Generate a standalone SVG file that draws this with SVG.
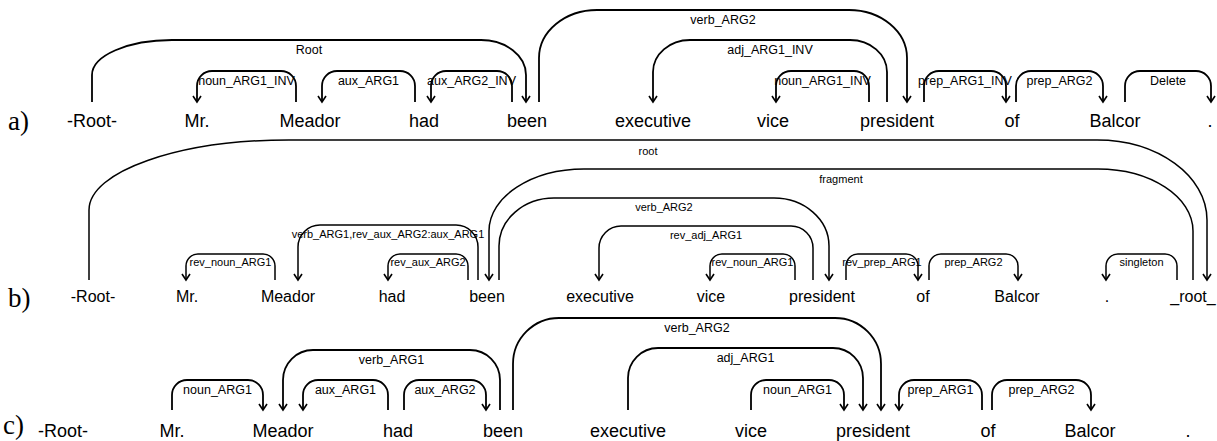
<svg xmlns="http://www.w3.org/2000/svg" width="1217" height="441" viewBox="0 0 1217 441">
<style>
.w{font-family:"Liberation Sans",Arial,sans-serif;font-size:18px;fill:#000;text-anchor:middle}
.wb{font-family:"Liberation Sans",Arial,sans-serif;font-size:16px;fill:#000;text-anchor:middle}
.rl{font-family:"Liberation Serif","Times New Roman",serif;font-size:27px;fill:#000}
.l{font-family:"Liberation Sans",Arial,sans-serif;font-size:12.5px;fill:#000;text-anchor:middle}
.lb{font-family:"Liberation Sans",Arial,sans-serif;font-size:11px;fill:#000;text-anchor:middle}
.arc{fill:none;stroke:#000;stroke-width:1.8}
.arcb{fill:none;stroke:#000;stroke-width:1.5}
.ah{marker-end:url(#ah)}
</style>
<defs>
<marker id="ah" markerUnits="userSpaceOnUse" markerWidth="12" markerHeight="12" viewBox="-8 -6 12 12" refX="0" refY="0" orient="auto" overflow="visible">
<path d="M-6,-4 L0,0 L-6,4" fill="none" stroke="#000" stroke-width="1.6"/>
</marker>
</defs>
<rect width="1217" height="441" fill="#fff"/>

<!-- row labels -->
<text class="rl" x="8" y="130">a)</text>
<text class="rl" x="8" y="307">b)</text>
<text class="rl" x="3" y="434">c)</text>

<!-- Row a nodes -->
<g id="a-root"><text class="w" x="92" y="127">-Root-</text></g>
<g id="a-mr"><text class="w" x="197" y="127">Mr.</text></g>
<g id="a-meador"><text class="w" x="310" y="127">Meador</text></g>
<g id="a-had"><text class="w" x="424" y="127">had</text></g>
<g id="a-been"><text class="w" x="527" y="127">been</text></g>
<g id="a-executive"><text class="w" x="653" y="127">executive</text></g>
<g id="a-vice"><text class="w" x="773" y="127">vice</text></g>
<g id="a-president"><text class="w" x="897" y="127">president</text></g>
<g id="a-of"><text class="w" x="1012" y="127">of</text></g>
<g id="a-balcor"><text class="w" x="1115" y="127">Balcor</text></g>
<g id="a-dot"><text class="w" x="1210" y="127">.</text></g>

<!-- Row b nodes -->
<g id="b-root"><text class="wb" x="93" y="302">-Root-</text></g>
<g id="b-mr"><text class="wb" x="187" y="302">Mr.</text></g>
<g id="b-meador"><text class="wb" x="288" y="302">Meador</text></g>
<g id="b-had"><text class="wb" x="392" y="302">had</text></g>
<g id="b-been"><text class="wb" x="487" y="302">been</text></g>
<g id="b-executive"><text class="wb" x="600" y="302">executive</text></g>
<g id="b-vice"><text class="wb" x="711" y="302">vice</text></g>
<g id="b-president"><text class="wb" x="822" y="302">president</text></g>
<g id="b-of"><text class="wb" x="923" y="302">of</text></g>
<g id="b-balcor"><text class="wb" x="1017" y="302">Balcor</text></g>
<g id="b-dot"><text class="wb" x="1107" y="302">.</text></g>
<g id="b-rootend"><text class="wb" x="1193" y="302">_root_</text></g>

<!-- Row c nodes -->
<g id="c-root"><text class="w" x="63" y="437">-Root-</text></g>
<g id="c-mr"><text class="w" x="172" y="437">Mr.</text></g>
<g id="c-meador"><text class="w" x="283" y="437">Meador</text></g>
<g id="c-had"><text class="w" x="398" y="437">had</text></g>
<g id="c-been"><text class="w" x="503" y="437">been</text></g>
<g id="c-executive"><text class="w" x="628" y="437">executive</text></g>
<g id="c-vice"><text class="w" x="751" y="437">vice</text></g>
<g id="c-president"><text class="w" x="873" y="437">president</text></g>
<g id="c-of"><text class="w" x="988" y="437">of</text></g>
<g id="c-balcor"><text class="w" x="1090" y="437">Balcor</text></g>
<g id="c-dot"><text class="w" x="1188" y="437">.</text></g>

<g id="connectors">
<!-- Row a -->
<path class="arc ah" d="M92,102 V75 C92,55.7 127.8,40 172,40 H481 C505.8,40 526,55.7 526,75 V102"/>
<text class="l" x="309" y="54">Root</text>
<path class="arc ah" d="M296,102 V86 C296,77.7 289.3,71 281,71 H212 C203.7,71 197,77.7 197,86 V102"/>
<text class="l" x="246.5" y="85">noun_ARG1_INV</text>
<path class="arc ah" d="M415,102 V86 C415,77.7 408.3,71 400,71 H337 C328.7,71 322,77.7 322,86 V102"/>
<text class="l" x="368.5" y="85">aux_ARG1</text>
<path class="arc ah" d="M512,102 V86 C512,77.7 505.3,71 497,71 H446 C437.7,71 431,77.7 431,86 V102"/>
<text class="l" x="471.5" y="85">aux_ARG2_INV</text>
<path class="arc ah" d="M539,102 V58 C539,31.5 565,10 597,10 H849 C881,10 907,31.5 907,58 V102"/>
<text class="l" x="723" y="24">verb_ARG2</text>
<path class="arc ah" d="M887,102 V72 C887,54.3 870.4,40 850,40 H690 C669.6,40 653,54.3 653,72 V102"/>
<text class="l" x="770" y="54">adj_ARG1_INV</text>
<path class="arc ah" d="M869,102 V86 C869,77.7 862.3,71 854,71 H791 C782.7,71 776,77.7 776,86 V102"/>
<text class="l" x="822.5" y="85">noun_ARG1_INV</text>
<path class="arc ah" d="M924,102 V86 C924,77.7 930.7,71 939,71 H991 C999.3,71 1006,77.7 1006,86 V102"/>
<text class="l" x="965" y="85">prep_ARG1_INV</text>
<path class="arc ah" d="M1016,102 V86 C1016,77.7 1022.7,71 1031,71 H1088 C1096.3,71 1103,77.7 1103,86 V102"/>
<text class="l" x="1059.5" y="85">prep_ARG2</text>
<path class="arc ah" d="M1125,102 V86 C1125,77.7 1131.7,71 1140,71 H1196 C1204.3,71 1211,77.7 1211,86 V102"/>
<text class="l" x="1168" y="85">Delete</text>

<!-- Row b -->
<path class="arcb ah" d="M89,280 V210 C89,171.4 178.6,140 289,140 H1097 C1157.7,140 1207,175.8 1207,220 V280"/>
<text class="lb" x="648" y="155">root</text>
<path class="arcb ah" d="M1193,280 V231 C1193,196.8 1150.4,169 1098,169 H584 C531.6,169 489,196.8 489,231 V280"/>
<text class="lb" x="841" y="183">fragment</text>
<path class="arcb ah" d="M499,280 V246 C499,219.5 523.6,198 554,198 H774 C804.4,198 829,219.5 829,246 V280"/>
<text class="lb" x="664" y="211">verb_ARG2</text>
<path class="arcb ah" d="M478,280 V247 C478,234.9 468.1,225 456,225 H320 C307.9,225 298,234.9 298,247 V280"/>
<text class="lb" x="388" y="238">verb_ARG1,rev_aux_ARG2:aux_ARG1</text>
<path class="arcb ah" d="M275,280 V266 C275,259.4 269.6,254 263,254 H198 C191.4,254 186,259.4 186,266 V280"/>
<text class="lb" x="230.5" y="266">rev_noun_ARG1</text>
<path class="arcb ah" d="M468,280 V266 C468,259.4 462.6,254 456,254 H400 C393.4,254 388,259.4 388,266 V280"/>
<text class="lb" x="428" y="266">rev_aux_ARG2</text>
<path class="arcb ah" d="M813,280 V248 C813,235.9 803.1,226 791,226 H621 C608.9,226 599,235.9 599,248 V280"/>
<text class="lb" x="706" y="239">rev_adj_ARG1</text>
<path class="arcb ah" d="M795,280 V266 C795,259.4 789.6,254 783,254 H722 C715.4,254 710,259.4 710,266 V280"/>
<text class="lb" x="752.5" y="266">rev_noun_ARG1</text>
<path class="arcb ah" d="M846,280 V266 C846,259.4 851.4,254 858,254 H906 C912.6,254 918,259.4 918,266 V280"/>
<text class="lb" x="882" y="266">rev_prep_ARG1</text>
<path class="arcb ah" d="M929,280 V266 C929,259.4 934.4,254 941,254 H1006 C1012.6,254 1018,259.4 1018,266 V280"/>
<text class="lb" x="973.5" y="266">prep_ARG2</text>
<path class="arcb ah" d="M1177,280 V266 C1177,259.4 1171.6,254 1165,254 H1118 C1111.4,254 1106,259.4 1106,266 V280"/>
<text class="lb" x="1141.5" y="266">singleton</text>

<!-- Row c -->
<path class="arc ah" d="M172,410 V395 C172,386.7 178.7,380 187,380 H248 C256.3,380 263,386.7 263,395 V410"/>
<text class="l" x="217.5" y="394">noun_ARG1</text>
<path class="arc ah" d="M500,410 V380 C500,363.4 486.6,350 470,350 H313 C296.4,350 283,363.4 283,380 V410"/>
<text class="l" x="391.5" y="364">verb_ARG1</text>
<path class="arc ah" d="M388,410 V395 C388,386.7 381.3,380 373,380 H318 C309.7,380 303,386.7 303,395 V410"/>
<text class="l" x="345.5" y="394">aux_ARG1</text>
<path class="arc ah" d="M404,410 V395 C404,386.7 410.7,380 419,380 H471 C479.3,380 486,386.7 486,395 V410"/>
<text class="l" x="445" y="394">aux_ARG2</text>
<path class="arc ah" d="M513,410 V364 C513,338.6 533.6,318 559,318 H835 C860.4,318 881,338.6 881,364 V410"/>
<text class="l" x="697" y="332">verb_ARG2</text>
<path class="arc ah" d="M628,410 V378 C628,361.4 641.4,348 658,348 H833 C849.6,348 863,361.4 863,378 V410"/>
<text class="l" x="745.5" y="362">adj_ARG1</text>
<path class="arc ah" d="M751,410 V395 C751,386.7 757.7,380 766,380 H829 C837.3,380 844,386.7 844,395 V410"/>
<text class="l" x="797.5" y="394">noun_ARG1</text>
<path class="arc ah" d="M982,410 V395 C982,386.7 975.3,380 967,380 H914 C905.7,380 899,386.7 899,395 V410"/>
<text class="l" x="940.5" y="394">prep_ARG1</text>
<path class="arc ah" d="M992,410 V395 C992,386.7 998.7,380 1007,380 H1076 C1084.3,380 1091,386.7 1091,395 V410"/>
<text class="l" x="1041.5" y="394">prep_ARG2</text>
</g>
</svg>
